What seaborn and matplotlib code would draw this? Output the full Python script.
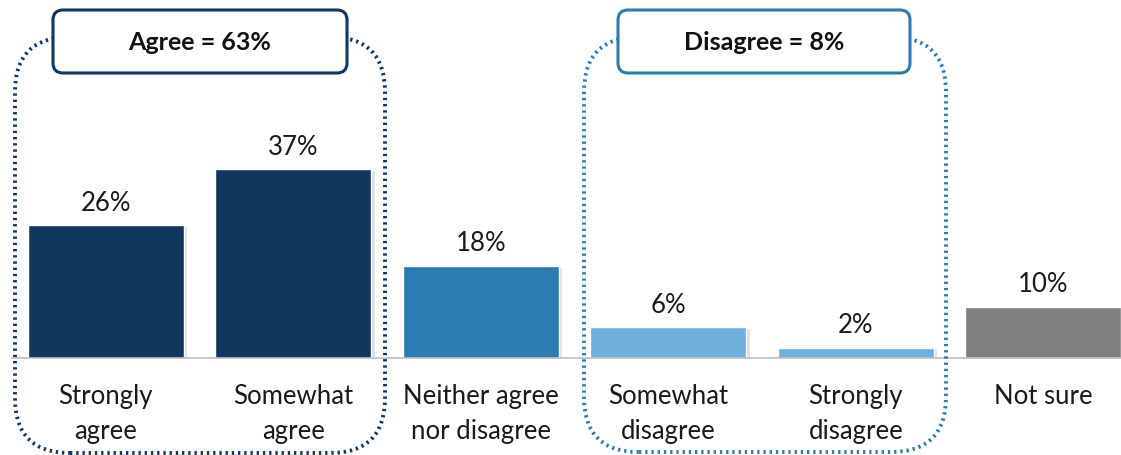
import matplotlib
matplotlib.use("Agg")
import matplotlib.pyplot as plt
import seaborn as sns
import pandas as pd
from matplotlib.patches import FancyBboxPatch
from matplotlib.transforms import IdentityTransform
import matplotlib.patheffects as pe

categories = ["Strongly\nagree", "Somewhat\nagree", "Neither agree\nnor disagree",
              "Somewhat\ndisagree", "Strongly\ndisagree", "Not sure"]
values = [26, 37, 18, 6, 2, 10]
colors = ["#12375F", "#12375F", "#2C7BB3", "#6FB0DD", "#6FB0DD", "#7F7F7F"]
group_labels = ["Agree = 63%", "Disagree = 8%"]

W, H = 1121, 455
sns.set_theme(style="white")
plt.rcParams["font.family"] = ["Lato", "DejaVu Sans"]

fig = plt.figure(figsize=(W / 100, H / 100), dpi=100)
# axes: x from 12px to 1121px, baseline at y=358px, top at y=0
ax = fig.add_axes([12 / W, (H - 358) / H, (W - 12) / W, 358 / H])

df = pd.DataFrame({"cat": categories, "val": values})
sns.barplot(data=df, x="cat", y="val", hue="cat", palette=colors, legend=False,
            width=0.83, ax=ax, saturation=1)

for p in ax.patches:
    p.set_path_effects([pe.SimplePatchShadow(offset=(2.5, -1), shadow_rgbFace="#aaaaaa", alpha=0.35),
                        pe.Normal()])

for c in ax.containers:
    ax.bar_label(c, labels=[f"{v:.0f}%" for v in c.datavalues], padding=7,
                 fontsize=18.5, color="#1a1a1a")

ax.set_ylim(0, 358 / 5.1)
ax.set_xlim(-0.5, 5.5 - 16 / 187.5)
ax.set_xlabel("")
ax.set_ylabel("")
ax.set_yticks([])
for s in ["top", "right", "left"]:
    ax.spines[s].set_visible(False)
ax.spines["bottom"].set_color("#BFBFBF")
ax.spines["bottom"].set_linewidth(1.2)

ax.set_xticks(range(len(categories)))
ax.set_xticklabels(categories, fontsize=18.5, color="#1a1a1a", linespacing=1.5)
ax.tick_params(axis="x", which="major", length=0, pad=19)
ax.set_xticks([i - 0.5 for i in range(len(categories))], minor=True)
ax.tick_params(axis="x", which="minor", length=6, width=1.2, color="#BFBFBF", direction="out")


def px(x, y):
    return x, H - y


def add_round(x0, y0, x1, y1, r, **kw):
    bx, by = px(x0, y1)
    patch = FancyBboxPatch((bx + r, by + r), (x1 - x0) - 2 * r, (y1 - y0) - 2 * r,
                           boxstyle=f"round,pad={r},rounding_size={r}",
                           transform=IdentityTransform(), **kw)
    fig.add_artist(patch)
    return patch


navy = "#12375F"
blue = "#2C7BB3"
# dotted group outlines
add_round(15, 37, 385, 453, 55, fill=False, edgecolor=navy, linewidth=2.8,
          linestyle=(0, (0.6, 1.0)), zorder=5)
add_round(584, 37, 946, 452, 55, fill=False, edgecolor=blue, linewidth=2.8,
          linestyle=(0, (0.6, 1.0)), zorder=5)
# solid header boxes
add_round(53, 10, 347, 73, 10, facecolor="white", edgecolor=navy, linewidth=2.2, zorder=6)
add_round(618, 10, 910, 73, 10, facecolor="white", edgecolor=blue, linewidth=2.2, zorder=6)

fig.text(200 / W, (H - 42) / H, group_labels[0], ha="center", va="center",
         fontsize=18, fontweight="bold", color="#111111", zorder=7)
fig.text(764 / W, (H - 42) / H, group_labels[1], ha="center", va="center",
         fontsize=18, fontweight="bold", color="#111111", zorder=7)

fig.savefig("out.png", dpi=100)
